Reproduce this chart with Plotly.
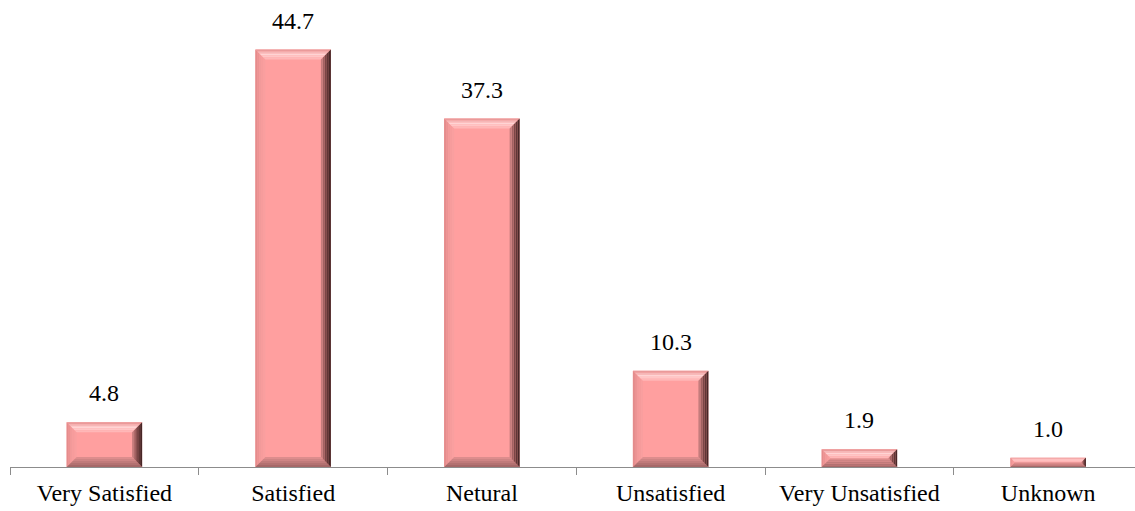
import plotly.graph_objects as go

# Survey results: share of respondents per satisfaction level (%)
categories = ["Very Satisfied", "Satisfied", "Netural", "Unsatisfied", "Very Unsatisfied", "Unknown"]
values = [4.8, 44.7, 37.3, 10.3, 1.9, 1.0]

W, H = 1135, 511
M_L, M_R, M_T, M_B = 10, 0, 0, 44
X_RANGE = [-0.5, 5.46]
Y_RANGE = [0, 50]
BAR_W = 0.4
SERIF = "Liberation Serif"
FONT_SIZE = 24

px_x = (W - M_L - M_R) / (X_RANGE[1] - X_RANGE[0])   # pixels per category unit
px_y = (H - M_T - M_B) / (Y_RANGE[1] - Y_RANGE[0])   # pixels per value unit

BASE = "#ff9f9f"
BEVEL_PX = 10
N_STRIPS = 5

# bevel colour ramps: outer edge -> middle -> inner edge
BEVELS = {
    "left": ("#e08888", "#f29a9a", "#fba0a0"),
    "bottom": ("#a06464", "#c07a7a", "#e49292"),
    "top": ("#e58c8c", "#ffd4d4", "#ffb0b0"),
    "right": ("#3a1f1f", "#7a4646", "#d88a8a"),
}


def lerp(c1, c2, t):
    a = [int(c1[i:i + 2], 16) for i in (1, 3, 5)]
    b = [int(c2[i:i + 2], 16) for i in (1, 3, 5)]
    return "rgb(%d,%d,%d)" % tuple(round(a[j] + (b[j] - a[j]) * t) for j in range(3))


def strip_pts(side, L, R, T, B, bx, by, d0, d1):
    if side == "top":
        return [(L + d0 * bx, T - d0 * by), (R - d0 * bx, T - d0 * by),
                (R - d1 * bx, T - d1 * by), (L + d1 * bx, T - d1 * by)]
    if side == "bottom":
        return [(L + d0 * bx, B + d0 * by), (R - d0 * bx, B + d0 * by),
                (R - d1 * bx, B + d1 * by), (L + d1 * bx, B + d1 * by)]
    if side == "left":
        return [(L + d0 * bx, T - d0 * by), (L + d1 * bx, T - d1 * by),
                (L + d1 * bx, B + d1 * by), (L + d0 * bx, B + d0 * by)]
    return [(R - d0 * bx, T - d0 * by), (R - d1 * bx, T - d1 * by),
            (R - d1 * bx, B + d1 * by), (R - d0 * bx, B + d0 * by)]


# one path per (side, strip) holding that strip for every bar
shapes = []
for side, (c_out, c_mid, c_in) in BEVELS.items():
    for s in range(N_STRIPS):
        d0, d1 = s / N_STRIPS, (s + 1) / N_STRIPS
        t = (s + 0.5) / N_STRIPS
        col = lerp(c_out, c_mid, t * 2) if t < 0.5 else lerp(c_mid, c_in, (t - 0.5) * 2)
        parts = []
        for i, v in enumerate(values):
            b_px = min(BEVEL_PX, v * px_y / 2)
            pts = strip_pts(side, i - BAR_W / 2, i + BAR_W / 2, v, 0.0,
                            b_px / px_x, b_px / px_y, d0, d1)
            parts.append("M " + " L ".join(f"{x:.4f},{y:.4f}" for x, y in pts) + " Z")
        shapes.append(dict(type="path", path=" ".join(parts), xref="x", yref="y",
                           fillcolor=col, line=dict(width=0), layer="above"))

fig = go.Figure()
fig.add_trace(go.Bar(
    x=categories, y=values, width=BAR_W,
    marker=dict(color=BASE, line=dict(width=0)),
    hoverinfo="skip",
))

for i, v in enumerate(values):
    fig.add_annotation(x=i, y=v, text=f"{v:.1f}", showarrow=False,
                       yanchor="bottom", yshift=14,
                       font=dict(family=SERIF, size=FONT_SIZE, color="black"))

fig.update_layout(
    width=W, height=H,
    margin=dict(l=M_L, r=M_R, t=M_T, b=M_B, pad=0),
    paper_bgcolor="white", plot_bgcolor="white",
    showlegend=False,
    shapes=shapes,
    xaxis=dict(
        type="category", range=X_RANGE,
        categoryorder="array", categoryarray=categories,
        showline=True, linecolor="#8c8c8c", linewidth=1,
        ticks="outside", ticklen=7, tickcolor="#8c8c8c", tickwidth=1,
        tickson="boundaries", showgrid=False, zeroline=False,
        ticklabelstandoff=4,
        tickfont=dict(family=SERIF, size=FONT_SIZE, color="black"),
    ),
    yaxis=dict(range=Y_RANGE, visible=False, showgrid=False, zeroline=False),
)

fig.write_html("out.html")
